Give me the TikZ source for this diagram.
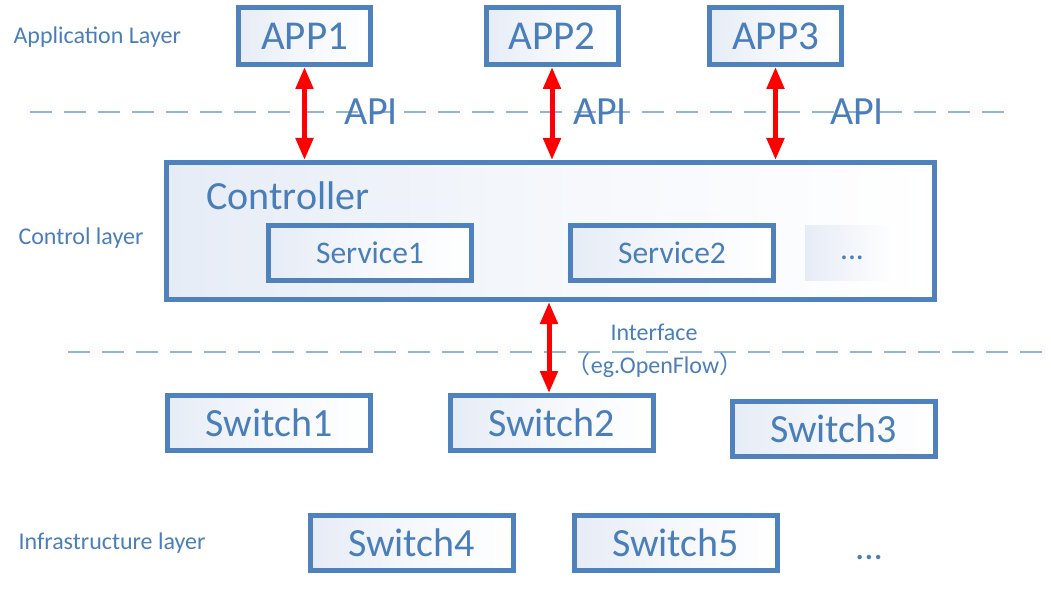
\documentclass[tikz,border=0pt]{standalone}
\usepackage{fontspec}
\setmainfont{Carlito}
\newfontfamily\cjk{Noto Sans CJK SC}
\usetikzlibrary{arrows.meta,positioning}

\definecolor{sdnblue}{RGB}{79,129,189}
\definecolor{sdntext}{RGB}{74,126,187}
\definecolor{sdndash}{RGB}{141,179,226}
\definecolor{sdnshade}{RGB}{230,236,246}

\tikzset{
  layerbox/.style={draw=sdnblue, line width=5pt, left color=sdnshade, right color=white,
    middle color=white!60!sdnshade, text=sdntext, inner sep=0pt},
  bigbox/.style={layerbox, minimum width=132pt, minimum height=57pt, font=\fontsize{41}{44}\selectfont},
  swbox/.style={layerbox, minimum width=203pt, minimum height=55pt, font=\fontsize{40}{42}\selectfont},
  svcbox/.style={layerbox, minimum width=203pt, minimum height=55pt, font=\fontsize{31.5}{34}\selectfont},
  layername/.style={anchor=west, text=sdntext, font=\fontsize{24}{26}\selectfont},
  apiname/.style={text=sdntext, font=\fontsize{40}{42}\selectfont},
  bothway/.style={red, line width=5pt, {Triangle[width=17pt,length=22pt]}-{Triangle[width=17pt,length=22pt]}},
  layerline/.style={sdndash, line width=1.5pt, dash pattern=on 22pt off 12pt}
}

\begin{document}
\begin{tikzpicture}[x=1pt,y=-1pt]
\useasboundingbox (0,0) rectangle (1051,604);

% layer names
\node[layername] (lapp) at (10,37) {Application Layer};
\node[layername] (lctl) at (15,238) {Control layer};
\node[layername] (linf) at (15,543) {Infrastructure layer};

% separators
\draw[layerline] (30,112) -- (1010,112);
\draw[layerline] (68,352) -- (1045,352);

% application layer
\node[bigbox] (app1) at (304.5,36) {APP1};
\node[bigbox] (app2) at (552,36) {APP2};
\node[bigbox] (app3) at (775.5,36) {APP3};

% control layer
\node[layerbox, minimum width=768pt, minimum height=137pt] (ctrl) at (550.5,231) {};
\node[anchor=west, text=sdntext, font=\fontsize{40}{42}\selectfont] (ctrlname) at (203,196) {Controller};
\node[svcbox] (svc1) at (370,253) {Service1};
\node[svcbox] (svc2) at (672,253) {Service2};
\node[left color=sdnshade, right color=white, minimum width=90pt, minimum height=55pt,
  inner sep=0pt] (svcmore) at (850,252.5) {};
\node[text=sdntext, font=\fontsize{31.5}{34}\selectfont] (svcdots) at (852,258) {...};

% apis
\draw[bothway] (app1.south) -- (app1.south |- ctrl.north);
\draw[bothway] (app2.south) -- (app2.south |- ctrl.north);
\draw[bothway] (app3.south) -- (app3.south |- ctrl.north);
\node[apiname] (api1) at (371,112) {API};
\node[apiname] (api2) at (600,112) {API};
\node[apiname] (api3) at (857,112) {API};

% infrastructure layer
\node[swbox] (sw1) at (269,423) {Switch1};
\node[swbox] (sw2) at (551.5,423) {Switch2};
\node[swbox] (sw3) at (833.5,429) {Switch3};
\node[swbox] (sw4) at (411.5,543) {Switch4};
\node[swbox] (sw5) at (675.5,543) {Switch5};
\node[text=sdntext, font=\fontsize{37}{40}\selectfont] (swdots) at (869,558) {...};

% southbound
\draw[bothway] ([xshift=-2.5pt]sw2.north) -- ([xshift=-2.5pt]sw2.north |- ctrl.south);
\node[text=sdntext, font=\fontsize{24}{26}\selectfont] (ifname) at (654,332) {Interface};
\node[text=sdntext, font=\fontsize{24}{26}\selectfont] (ifproto) at (655,365) {{\cjk （}eg.OpenFlow{\cjk ）}};
\end{tikzpicture}
\end{document}
